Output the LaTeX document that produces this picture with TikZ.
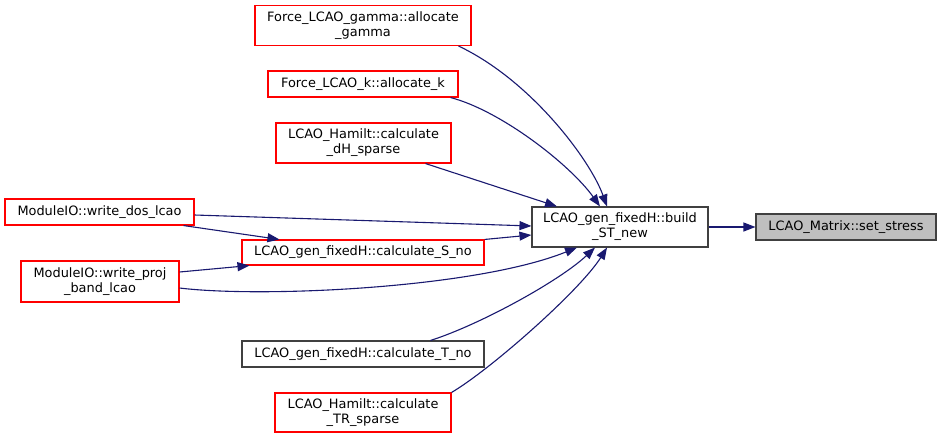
\documentclass[tikz,border=0pt]{standalone}
\usepackage{fontspec}
\setmainfont{DejaVu Sans}
\usetikzlibrary{arrows.meta}
\definecolor{edgeblue}{RGB}{25,25,112}
\definecolor{nodered}{RGB}{255,0,0}
\definecolor{nodegray}{RGB}{191,191,191}
\definecolor{nodeblack}{RGB}{64,64,64}
\begin{document}
\begin{tikzpicture}[x=1pt,y=-1pt,
  box/.style={draw, line width=1.1pt, inner sep=0pt, align=center, text=black, font=\fontsize{12.9}{15}\selectfont},
  redbox/.style={box, draw=nodered},
  blackbox/.style={box, draw=nodeblack},
  graybox/.style={box, draw=nodeblack, fill=nodegray},
  call/.style={draw=edgeblue, line width=1.1pt, -{Triangle[length=12pt,width=9pt]}}
]
\path[use as bounding box, fill=white] (0,0) rectangle (941,439);

\node[redbox, minimum width=216pt, minimum height=40pt] (gam) at (363,25.5) {Force\_LCAO\_gamma::allocate\\\_gamma};
\node[redbox, minimum width=190pt, minimum height=26pt] (kk) at (363,84) {Force\_LCAO\_k::allocate\_k};
\node[redbox, minimum width=175pt, minimum height=40pt] (dH) at (363.5,143) {LCAO\_Hamilt::calculate\\\_dH\_sparse};
\node[redbox, minimum width=189pt, minimum height=26pt] (dos) at (99.5,212) {ModuleIO::write\_dos\_lcao};
\node[redbox, minimum width=242pt, minimum height=25pt] (Sno) at (363,252.5) {LCAO\_gen\_fixedH::calculate\_S\_no};
\node[redbox, minimum width=158pt, minimum height=41pt] (proj) at (100,281.5) {ModuleIO::write\_proj\\\_band\_lcao};
\node[blackbox, minimum width=242pt, minimum height=26pt] (Tno) at (363,354) {LCAO\_gen\_fixedH::calculate\_T\_no};
\node[redbox, minimum width=176pt, minimum height=39pt] (TR) at (363,412.5) {LCAO\_Hamilt::calculate\\\_TR\_sparse};
\node[blackbox, minimum width=176pt, minimum height=40pt] (build) at (620,227) {LCAO\_gen\_fixedH::build\\\_ST\_new};
\node[graybox, minimum width=180pt, minimum height=26pt] (stress) at (846,227) {LCAO\_Matrix::set\_stress};

\draw[call] ([xshift=-13pt]gam.south east) .. controls +(72,34) and +(-17,-47) .. ([xshift=-13pt]build.north);
\draw[call] ([xshift=-8pt]kk.south east) .. controls +(50,13) and +(-30,-42) .. ([xshift=-20pt]build.north);
\draw[call] ([xshift=-26pt]dH.south east) -- ([xshift=-63pt]build.north);
\draw[call] ([yshift=-3pt]dos.east) -- ([yshift=1pt]build.west);
\draw[call] ([xshift=-11pt]dos.south east) -- ([xshift=38pt]Sno.north west);
\draw[call] (Sno.north east) -- ([yshift=-8pt]build.west);
\draw[call] ([yshift=9.5pt]proj.east) -- ([xshift=8pt]Sno.south west);
\draw[call] ([yshift=-6.5pt]proj.east) .. controls +(81,10) and +(-102,41) .. ([xshift=-43pt]build.south);
\draw[call] ([xshift=-54pt]Tno.north east) .. controls +(50,-16) and +(-35,33) .. ([xshift=-25pt]build.south);
\draw[call] (TR.north east) .. controls +(39,-23) and +(-27,43) .. ([xshift=-13pt]build.south);
\draw[call] (build.east) -- (stress.west);
\end{tikzpicture}
\end{document}
